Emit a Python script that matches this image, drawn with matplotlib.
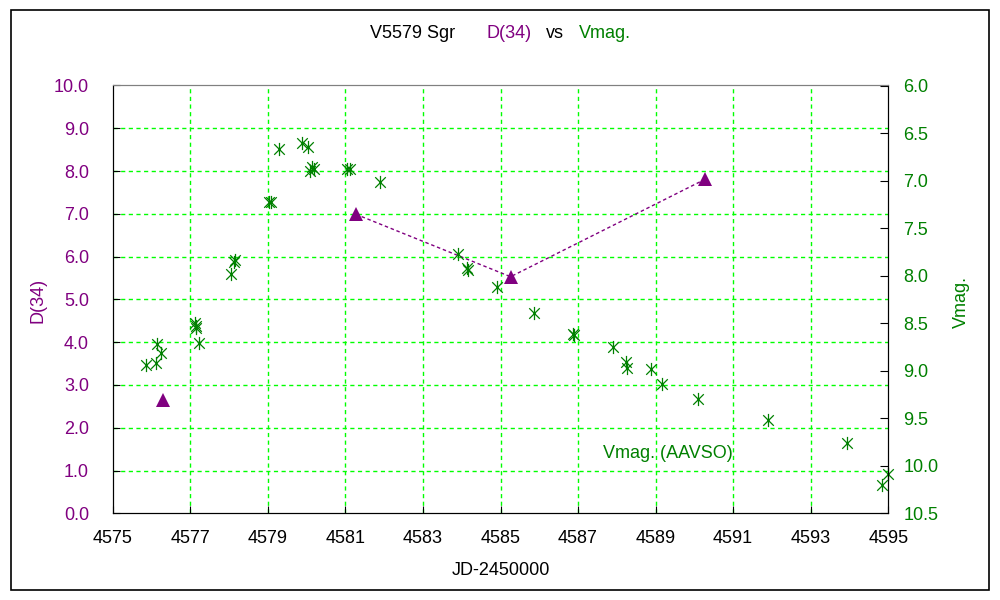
import numpy as np
import matplotlib.pyplot as plt
from matplotlib.path import Path
from matplotlib.patches import Rectangle

# D(34) measurements
d_jd = [4576.30, 4581.27, 4585.26, 4590.28]
d_val = [2.66, 6.99, 5.53, 7.81]

# Vmag (AAVSO)
v_jd = [4575.86, 4576.12, 4576.24, 4576.15, 4577.12, 4577.14, 4577.16, 4577.23,
        4578.05, 4578.12, 4578.16, 4579.02, 4579.07, 4579.28, 4579.88, 4580.04,
        4580.10, 4580.15, 4580.20, 4581.05, 4581.12, 4581.89, 4583.91, 4584.13,
        4584.16, 4584.92, 4585.87, 4586.88, 4586.90, 4587.89, 4588.24, 4588.25,
        4588.87, 4589.17, 4590.09, 4591.90, 4593.93, 4594.83, 4594.98]
v_mag = [8.94, 8.92, 8.81, 8.72, 8.50, 8.53, 8.55, 8.71,
         7.98, 7.86, 7.84, 7.23, 7.23, 6.67, 6.60, 6.65,
         6.90, 6.86, 6.88, 6.88, 6.88, 7.02, 7.77, 7.92,
         7.94, 8.12, 8.39, 8.61, 8.62, 8.75, 8.91, 8.97,
         8.98, 9.14, 9.30, 9.52, 9.76, 10.20, 10.09]

x_ticks = np.arange(4575, 4596, 2)
d_ticks = np.arange(0, 11, 1)
v_ticks = np.arange(6.0, 10.51, 0.5)

purple = '#800080'
green = '#008000'
grid_green = '#00ff00'

plt.rcParams['font.family'] = ['Liberation Sans', 'DejaVu Sans']
plt.rcParams['font.size'] = 13

fig = plt.figure(figsize=(10, 6), dpi=100)
fig.patches.append(Rectangle((0.011, 0.0167), 0.978, 0.9667, transform=fig.transFigure,
                             fill=False, edgecolor='black', linewidth=1.2))

ax = fig.add_axes([0.1127, 0.1445, 0.7756, 0.713])
ax2 = ax.twinx()

ax.set_xlim(4575, 4595)
ax.set_ylim(0, 10)
ax2.set_ylim(10.5, 6.0)

ax.set_xticks(x_ticks)
ax.set_yticks(d_ticks)
ax.set_yticklabels(['%.1f' % t for t in d_ticks])
ax2.set_yticks(v_ticks)
ax2.set_yticklabels(['%.1f' % t for t in v_ticks])

# grid
for xv in x_ticks[1:-1]:
    ax.axvline(xv, color=grid_green, lw=1, dashes=(3, 2.5), zorder=0)
for yv in d_ticks[1:-1]:
    ax.axhline(yv, color=grid_green, lw=1, dashes=(3, 2.5), zorder=0)

ax.tick_params(axis='x', direction='in', length=5, pad=12, colors='black')
ax.tick_params(axis='y', direction='in', length=5, pad=17, labelcolor=purple)
ax2.tick_params(axis='y', direction='in', length=6, pad=11, labelcolor=green)

for a in (ax, ax2):
    a.spines['top'].set_color('#808080')
    for s in ('left', 'right', 'bottom'):
        a.spines[s].set_color('black')

# D(34): first point stands alone, the rest connected
ax.plot(d_jd[1:], d_val[1:], color=purple, lw=1, dashes=(2.5, 2), zorder=2)
ax.plot(d_jd, d_val, linestyle='none', marker='^', markersize=10,
        color=purple, markeredgewidth=0, zorder=3)

star = Path([(0, -1), (0, 1), (-0.8, -0.8), (0.8, 0.8), (-0.8, 0.8), (0.8, -0.8)],
            [Path.MOVETO, Path.LINETO, Path.MOVETO, Path.LINETO, Path.MOVETO, Path.LINETO])
ax2.plot(v_jd, v_mag, linestyle='none', marker=star, markersize=9.5,
         markerfacecolor='none', markeredgecolor=green, markeredgewidth=0.9,
         clip_on=False)

ax2.text(4587.64, 9.87, 'Vmag. (AAVSO)', color=green, ha='left', va='center', fontsize=13)

ax.set_xlabel('JD-2450000', fontsize=13)
ax.xaxis.set_label_coords(0.5, -0.115)
fig.text(0.038, 0.5, 'D(34)', color=purple, rotation=90, ha='center', va='center', fontsize=13)
fig.text(0.961, 0.497, 'Vmag.', color=green, rotation=90, ha='center', va='center', fontsize=13)

# title in coloured pieces
ty = 1 - 34 / 600
fig.text(0.370, ty, 'V5579 Sgr', color='black', ha='left', va='center', fontsize=13)
fig.text(0.486, ty, 'D(34)', color=purple, ha='left', va='center', fontsize=13)
fig.text(0.546, ty, 'vs', color='black', ha='left', va='center', fontsize=13)
fig.text(0.579, ty, 'Vmag.', color=green, ha='left', va='center', fontsize=13)

fig.savefig('out.png', dpi=100)
